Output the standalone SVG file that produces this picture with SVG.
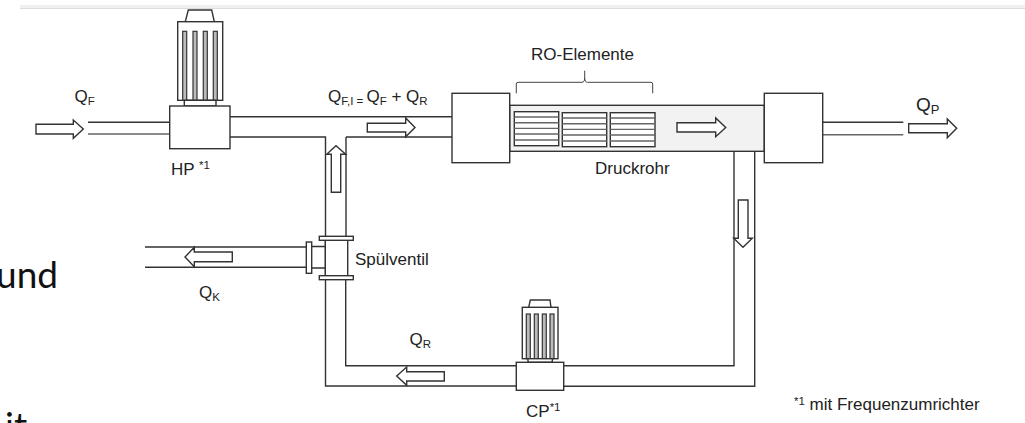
<svg xmlns="http://www.w3.org/2000/svg" width="1025" height="423" viewBox="0 0 1025 423">
<style>
.l{fill:none;stroke:#333;stroke-width:1.4}
.g{stroke:#666}
.b{fill:#fff;stroke:#333;stroke-width:1.4}
.a{fill:#fff;stroke:#333;stroke-width:1.4;stroke-linejoin:miter}
.f{fill:#bbb;stroke:#333;stroke-width:1.2}
.t{font-family:"Liberation Sans",Arial,sans-serif;font-size:17px;fill:#222}
.q{font-size:17px}
.s{font-size:11.5px}
.u{font-family:Lato,"Open Sans",sans-serif;font-size:37px;fill:#111}
</style>
<rect width="1025" height="423" fill="#fff"/>
<rect x="20" y="5" width="1005" height="3" fill="#f0f0f0"/>
<rect x="20" y="8" width="1005" height="1" fill="#dddddd"/>
<text class="u" x="-4" y="287.5">und</text>
<text class="u" x="5" y="439">it</text>
<g id="connectors">
<path class="l" d="M88 122.3H170"/><path class="l g" d="M88 134H170"/>
<path class="l" d="M230 116.7H452M230 137H325.5V386H516.3M346 137H452M346 137V236.3M345.7 280V365.7H516.3"/>
<path class="l" d="M563.7 365.7H734V151.3M563.7 386.3H754.7V151.3"/>
<path class="l" d="M822.7 122.3H903.3"/><path class="l g" d="M822.7 134.7H903.3"/>
<path class="l" d="M145 247H306.3M145 267.3H306.3M311.7 246.5H325.3M311.7 268H325.3"/>
</g>
<g id="feed-arrow"><path class="a" d="M36 124.3H73.3V120L83.3 129L73.3 138.3V134H36Z"/></g>
<g id="mid-arrow"><path class="a" d="M367.3 123.3H405.7V118L415 127.5L405.7 136.7V132H367.3Z"/></g>
<g id="up-arrow"><path class="a" d="M331.3 192.3V154.3H326.7L336 145.7L345.7 154.3H340.7V192.3Z"/></g>
<g id="down-arrow"><path class="a" d="M738.3 200H748V238.3H752.3L743 247.3L733.7 238.3H738.3Z"/></g>
<g id="permeate-arrow"><path class="a" d="M908.7 123.7H947.3V119L956.7 128.3L947.3 137.7V132.7H908.7Z"/></g>
<g id="reject-arrow"><path class="a" d="M232.3 252H194.3V247.3L185 257L194.3 266.7V261.7H232.3Z"/></g>
<g id="recycle-arrow"><path class="a" d="M444.3 371.7H406.7V367L396.7 376L406.7 385.3V381H444.3Z"/></g>
<g id="hp-pump">
<path class="b" d="M185.3 21.7L188.3 10H211.7L214.3 21.7"/>
<rect class="b" x="177.7" y="21.7" width="45" height="78.6"/>
<rect class="f" x="182.7" y="31.3" width="4" height="69"/>
<rect class="f" x="193" y="31.3" width="4" height="69"/>
<rect class="f" x="203.3" y="31.3" width="4" height="69"/>
<rect class="f" x="213.3" y="31.3" width="4" height="69"/>
<rect class="b" x="184.3" y="100.3" width="31.7" height="5.7"/>
<rect class="b" x="169.7" y="106" width="60.3" height="42.7"/>
</g>
<g id="druckrohr">
<rect x="509.7" y="105.3" width="254.6" height="46" fill="#f2f2f2" stroke="#333" stroke-width="1.4"/>
</g>
<g id="inlet-head"><rect class="b" x="452" y="93.3" width="57.7" height="69.4"/></g>
<g id="outlet-head"><rect class="b" x="764.3" y="93.3" width="58.4" height="69.4"/></g>
<g id="tube-arrow"><path class="a" d="M677 122.7H715.7V118L725.7 127.5L715.7 136.7V132H677Z"/></g>
<g id="ro-elements">
<rect class="b" x="514.3" y="111.7" width="44.4" height="34"/>
<path class="l g" d="M514.3 117H558.7M514.3 122.7H558.7M514.3 128.4H558.7M514.3 134H558.7M514.3 140H558.7"/>
<rect class="b" x="562.3" y="112.7" width="44.4" height="34"/>
<path class="l g" d="M562.3 118H606.7M562.3 123.7H606.7M562.3 129.4H606.7M562.3 135H606.7M562.3 141H606.7"/>
<rect class="b" x="610.3" y="112.7" width="44.7" height="34"/>
<path class="l g" d="M610.3 118H655M610.3 123.7H655M610.3 129.4H655M610.3 135H655M610.3 141H655"/>
<path d="M516.3 93.3V84Q516.3 82.3 518 82.3H582Q584.7 82.3 584.7 78V70.7M584.7 78Q584.7 82.3 587.4 82.3H651Q652.7 82.3 652.7 84V93.3" fill="none" stroke="#444" stroke-width="1"/>
</g>
<g id="spuelventil">
<rect class="b" x="325.3" y="240.3" width="22.4" height="35.4"/>
<rect class="b" x="319.3" y="236.3" width="34" height="4"/>
<rect class="b" x="319.3" y="275.7" width="34" height="4"/>
<rect class="b" x="306.3" y="242" width="5.4" height="31.3"/>
</g>
<g id="cp-pump">
<path class="b" d="M528.7 307.3L530.3 300H550L551 307.3"/>
<rect class="b" x="522.3" y="307.3" width="35.7" height="51.4"/>
<rect class="f" x="526.3" y="314" width="4" height="44.7"/>
<rect class="f" x="534.3" y="314" width="4" height="44.7"/>
<rect class="f" x="542.3" y="314" width="4" height="44.7"/>
<rect class="f" x="550" y="314" width="4" height="44.7"/>
<rect class="b" x="528" y="358.7" width="24.3" height="3.6"/>
<rect class="b" x="516.3" y="362.3" width="47.4" height="28"/>
</g>
<g id="labels">
<text class="t q" x="74.5" y="101.5">Q<tspan class="s" dy="3">F</tspan></text>
<text class="t q" x="171" y="174.5">HP <tspan class="s" dy="-6">*1</tspan></text>
<text class="t q" x="328" y="101.5">Q<tspan class="s" dy="3">F,I = </tspan><tspan dy="-3">Q</tspan><tspan class="s" dy="3">F</tspan><tspan dy="-3"> + Q</tspan><tspan class="s" dy="3">R</tspan></text>
<text class="t" x="531" y="59.5">RO-Elemente</text>
<text class="t" x="595" y="173.5">Druckrohr</text>
<text class="t" x="916" y="111" style="font-size:19px">Q<tspan style="font-size:13px" dy="3">P</tspan></text>
<text class="t" x="355" y="265">Spülventil</text>
<text class="t q" x="199" y="297.5">Q<tspan class="s" dy="3">K</tspan></text>
<text class="t q" x="409.5" y="345">Q<tspan class="s" dy="3">R</tspan></text>
<text class="t q" x="526" y="417">CP<tspan class="s" dy="-6">*1</tspan></text>
<text class="t" x="794" y="409.5"><tspan class="s" dy="-5">*1</tspan><tspan dy="5"> mit Frequenzumrichter</tspan></text>
</g>
</svg>
